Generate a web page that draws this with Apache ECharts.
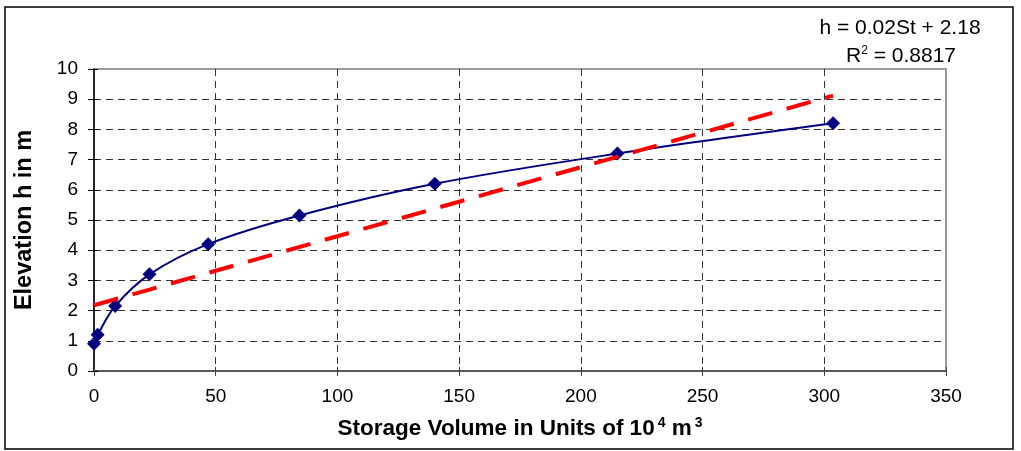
<!DOCTYPE html>
<html>
<head>
<meta charset="utf-8">
<script src="https://cdn.jsdelivr.net/npm/echarts@6/dist/echarts.min.js"></script>
<style>
  html, body { margin: 0; padding: 0; background: #fff; }
  #chart { width: 1021px; height: 451px; }
</style>
</head>
<body>
<div id="chart"></div>
<script>
// Storage volume (10^4 m^3) against reservoir elevation (m)
const storage = [0, 1.5, 8.7, 22.8, 46.9, 84.4, 140, 215, 303.6];
const elevation = [0.9, 1.2, 2.15, 3.2, 4.2, 5.15, 6.2, 7.2, 8.2];

// Axis tick values
const xTicks = [0, 50, 100, 150, 200, 250, 300, 350];
const yTicks = [0, 1, 2, 3, 4, 5, 6, 7, 8, 9, 10];

// Least-squares linear fit h = a*St + b
function linearFit(xs, ys) {
  const n = xs.length;
  const mx = xs.reduce((s, v) => s + v, 0) / n;
  const my = ys.reduce((s, v) => s + v, 0) / n;
  let sxy = 0, sxx = 0, syy = 0;
  for (let i = 0; i < n; i++) {
    sxy += (xs[i] - mx) * (ys[i] - my);
    sxx += (xs[i] - mx) * (xs[i] - mx);
    syy += (ys[i] - my) * (ys[i] - my);
  }
  const a = sxy / sxx;
  return { a: a, b: my - a * mx, r2: (sxy * sxy) / (sxx * syy) };
}
const fit = linearFit(storage, elevation);
const xMin = Math.min(...storage), xMax = Math.max(...storage);
const trend = [[xMin, fit.a * xMin + fit.b], [xMax, fit.a * xMax + fit.b]];

const xStep = xTicks[1] - xTicks[0];
const yStep = yTicks[1] - yTicks[0];
const FONT = '"Liberation Sans", Arial, sans-serif';

const xRange = { type: 'value', min: xTicks[0], max: xTicks[xTicks.length - 1], interval: xStep };
const yRange = { type: 'value', min: yTicks[0], max: yTicks[yTicks.length - 1], interval: yStep };

const chart = echarts.init(document.getElementById('chart'), null, { renderer: 'canvas' });
chart.setOption({
  animation: false,
  backgroundColor: '#fff',
  grid: {
    left: 94, right: 75, top: 69, bottom: 80,
    show: true, borderColor: '#9a9a9a', borderWidth: 2, backgroundColor: 'transparent'
  },
  xAxis: [
    Object.assign({}, xRange, {
      position: 'bottom',
      axisLine: { show: true, lineStyle: { color: '#404040', width: 1.5 } },
      axisTick: { show: true, inside: false, length: 5, lineStyle: { color: '#404040', width: 1 } },
      axisLabel: { color: '#000', fontFamily: FONT, fontSize: 19, margin: 16 },
      splitLine: { show: true, showMinLine: false, showMaxLine: false,
        lineStyle: { color: '#333', width: 1, type: [7, 5] } },
      name: '{t|Storage Volume in Units of 10}{s|4}{t| m}{s|3}',
      nameLocation: 'middle',
      nameGap: 45,
      nameTextStyle: {
        rich: {
          t: { fontFamily: FONT, fontWeight: 'bold', fontSize: 22.5, color: '#000', lineHeight: 26 },
          s: { fontFamily: FONT, fontWeight: 'bold', fontSize: 14, color: '#000', verticalAlign: 'top', lineHeight: 26, padding: [0, 0, 8, 3] }
        }
      }
    }),
    Object.assign({}, xRange, {
      position: 'bottom',
      axisLine: { show: false },
      axisTick: { show: true, inside: true, length: 4, lineStyle: { color: '#404040', width: 1 } },
      axisLabel: { show: false },
      splitLine: { show: false }
    })
  ],
  yAxis: [
    Object.assign({}, yRange, {
      position: 'left',
      axisLine: { show: true, lineStyle: { color: '#000', width: 1.5 } },
      axisTick: { show: true, inside: false, length: 6, lineStyle: { color: '#000', width: 1 } },
      axisLabel: { color: '#000', fontFamily: FONT, fontSize: 19, margin: 16 },
      splitLine: { show: true, showMinLine: false, showMaxLine: false,
        lineStyle: { color: '#333', width: 1, type: [7, 5] } },
      name: 'Elevation h in m',
      nameLocation: 'middle',
      nameGap: 57,
      nameTextStyle: { fontFamily: FONT, fontWeight: 'bold', fontSize: 23.5, color: '#000' }
    }),
    Object.assign({}, yRange, {
      position: 'left',
      axisLine: { show: false },
      axisTick: { show: true, inside: true, length: 4, lineStyle: { color: '#000', width: 1 } },
      axisLabel: { show: false },
      splitLine: { show: false }
    })
  ],
  series: [
    {
      name: 'Elevation',
      type: 'line',
      xAxisIndex: 0, yAxisIndex: 0,
      data: storage.map((s, i) => [s, elevation[i]]),
      smooth: 0.35,
      symbol: 'diamond',
      symbolSize: 14,
      lineStyle: { color: '#000080', width: 2 },
      itemStyle: { color: '#000080' },
      z: 3
    },
    {
      name: 'Linear fit',
      type: 'line',
      xAxisIndex: 0, yAxisIndex: 0,
      data: trend,
      symbol: 'none',
      lineStyle: { color: '#ff0000', width: 4, type: [25, 15] },
      z: 4
    }
  ],
  graphic: [
    {
      type: 'rect',
      shape: { x: 5, y: 7, width: 1008, height: 442 },
      style: { fill: 'none', stroke: '#000', lineWidth: 1.5 },
      silent: true
    },
    {
      type: 'text',
      x: 900, y: 28,
      style: {
        text: 'h = ' + fit.a.toFixed(2) + 'St + ' + fit.b.toFixed(2),
        font: '21px ' + FONT, fill: '#000', align: 'center', verticalAlign: 'middle'
      }
    },
    {
      type: 'text',
      x: 901, y: 56,
      style: {
        text: '{t|R}{s|2}{t| = 0.8817}',
        align: 'center', verticalAlign: 'middle',
        rich: {
          t: { font: '21px ' + FONT, fill: '#000', lineHeight: 22 },
          s: { font: '12px ' + FONT, fill: '#000', verticalAlign: 'top', lineHeight: 22, padding: [0, 0, 8, 0] }
        }
      }
    }
  ]
});
</script>
</body>
</html>
